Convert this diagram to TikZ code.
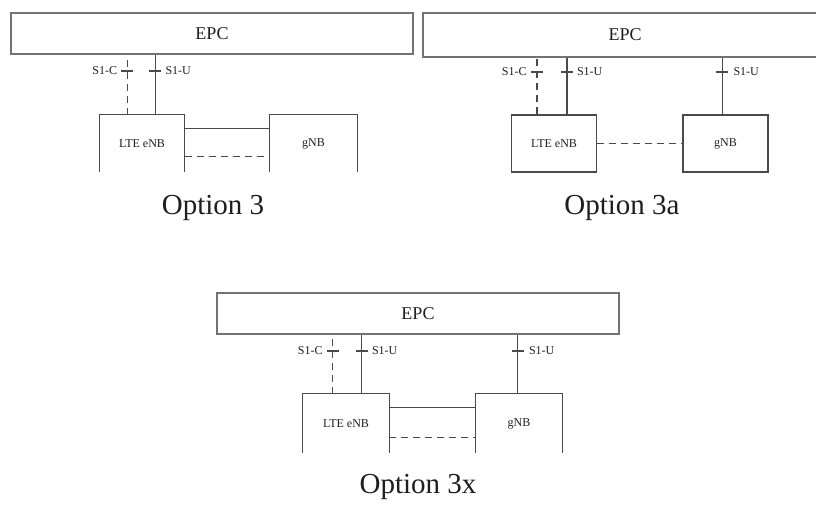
\documentclass[tikz,border=0pt]{standalone}
\usepackage{fontspec}
\setmainfont{Liberation Serif}
\usetikzlibrary{calc}
\definecolor{lncol}{HTML}{4A4A4A}
\definecolor{bx}{HTML}{737373}
\definecolor{tx}{HTML}{1E1E1E}
\begin{document}
\begin{tikzpicture}[x=1pt,y=-1pt,
  epcbox/.style={draw=bx,line width=2pt,minimum width=402pt,minimum height=41pt,inner sep=0pt,text=tx,font=\fontsize{18}{20}\selectfont},
  nbox/.style={minimum width=85pt,minimum height=57pt,inner sep=0pt,text=tx,font=\fontsize{12}{14}\selectfont},
  ln/.style={draw=lncol,line width=1.3pt},
  dln/.style={draw=lncol,line width=1.3pt,dash pattern=on 7pt off 5pt},
  lbl/.style={text=tx,font=\fontsize{12}{14}\selectfont,inner sep=0pt},
  opt/.style={text=tx,font=\fontsize{29}{32}\selectfont,inner sep=0pt}]
\useasboundingbox (0,0) rectangle (816,504);
\begin{scope}
\clip (0,0) rectangle (816,504);
% ---------- Option 3 ----------
\node[epcbox] (epcA) at (212,33.5) {EPC};
\node[nbox] (eA) at (142,143.5) {LTE eNB};
\node[nbox,minimum width=87pt] (gA) at (313.5,143.5) {gNB};
\draw[ln] (eA.south west) |- (eA.north east) -- (eA.south east);
\draw[ln] (gA.south west) |- (gA.north east) -- (gA.south east);
\draw[dln] ($(eA.north west)+(28,0)$) coordinate (cA) -- (cA |- epcA.south);
\draw[ln] ($(eA.north west)+(56,0)$) coordinate (uA) -- (uA |- epcA.south);
\coordinate (tA) at (0,71);
\draw[ln] ($(cA |- tA)+(-6,0)$) coordinate (tcA) -- +(12,0);
\draw[ln] ($(uA |- tA)+(-6,0)$) -- +(12,0) coordinate (tuA);
\node[lbl,anchor=east] (lcA) at ($(tcA)+(-4,0)$) {S1-C};
\node[lbl,anchor=west] (luA) at ($(tuA)+(4,0)$) {S1-U};
\draw[ln] ($(eA.north east)+(0,14)$) -- ($(gA.north west)+(0,14)$);
\draw[dln] ($(eA.north east)+(0,42)$) -- ($(gA.north west)+(0,42)$);
\node[opt] (oA) at (213,208) {Option 3};
% ---------- Option 3a ----------
\node[epcbox,minimum width=404pt,minimum height=44pt] (epcB) at (625,35) {EPC};
\node[nbox,ln,draw] (eB) at (554,143.5) {LTE eNB};
\node[nbox,ln,draw] (gB) at (725.5,143.5) {gNB};
\draw[dln] ($(eB.north west)+(26,0)$) coordinate (cB) -- (cB |- epcB.south);
\draw[ln] ($(eB.north west)+(56,0)$) coordinate (uB) -- (uB |- epcB.south);
\draw[ln] ($(gB.north west)+(40,0)$) coordinate (vB) -- (vB |- epcB.south);
\coordinate (tB) at (0,72);
\draw[ln] ($(cB |- tB)+(-6,0)$) coordinate (tcB) -- +(12,0);
\draw[ln] ($(uB |- tB)+(-6,0)$) -- +(12,0) coordinate (tuB);
\draw[ln] ($(vB |- tB)+(-6,0)$) -- +(12,0) coordinate (tvB);
\node[lbl,anchor=east] (lcB) at ($(tcB)+(-4,0)$) {S1-C};
\node[lbl,anchor=west] (luB) at ($(tuB)+(4,0)$) {S1-U};
\node[lbl,anchor=west] (lvB) at ($(tvB)+(5,0)$) {S1-U};
\draw[dln] (eB.east) -- (gB.west);
\node[opt] (oB) at (622,208) {Option 3a};
% ---------- Option 3x ----------
\node[epcbox] (epcC) at (418,313.5) {EPC};
\node[nbox,minimum width=86pt,minimum height=59pt] (eC) at (346,423.5) {LTE eNB};
\node[nbox,minimum width=86pt,minimum height=59pt] (gC) at (519,423.5) {gNB};
\draw[ln] (eC.south west) |- (eC.north east) -- (eC.south east);
\draw[ln] (gC.south west) |- (gC.north east) -- (gC.south east);
\draw[dln] ($(eC.north west)+(30,0)$) coordinate (cC) -- (cC |- epcC.south);
\draw[ln] ($(eC.north west)+(59,0)$) coordinate (uC) -- (uC |- epcC.south);
\draw[ln] ($(gC.north west)+(42,0)$) coordinate (vC) -- (vC |- epcC.south);
\coordinate (tC) at (0,351);
\draw[ln] ($(cC |- tC)+(-6,0)$) coordinate (tcC) -- +(12,0);
\draw[ln] ($(uC |- tC)+(-6,0)$) -- +(12,0) coordinate (tuC);
\draw[ln] ($(vC |- tC)+(-6,0)$) -- +(12,0) coordinate (tvC);
\node[lbl,anchor=east] (lcC) at ($(tcC)+(-4,0)$) {S1-C};
\node[lbl,anchor=west] (luC) at ($(tuC)+(4,0)$) {S1-U};
\node[lbl,anchor=west] (lvC) at ($(tvC)+(5,0)$) {S1-U};
\draw[ln] ($(eC.north east)+(0,14)$) -- ($(gC.north west)+(0,14)$);
\draw[dln] ($(eC.north east)+(0,44)$) -- ($(gC.north west)+(0,44)$);
\node[opt] (oC) at (418,487) {Option 3x};
\end{scope}
\end{tikzpicture}
\end{document}
